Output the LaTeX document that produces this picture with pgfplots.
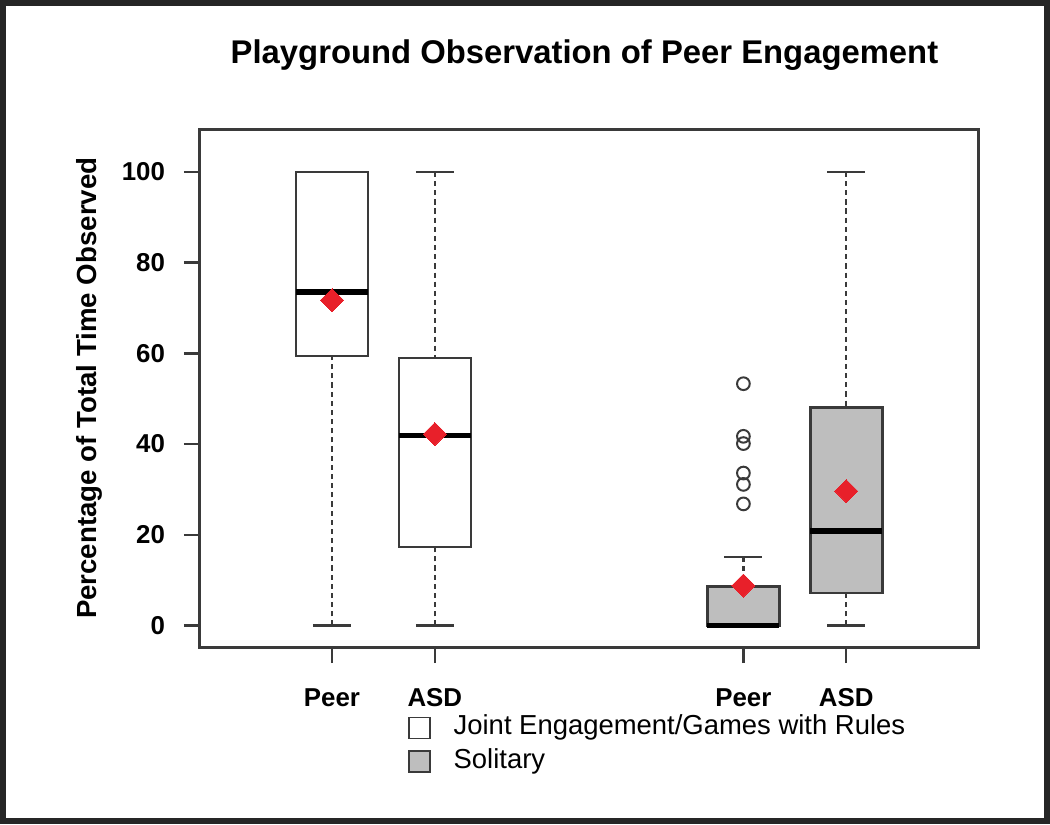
\documentclass[border=0pt]{standalone}
\usepackage{pgfplots}
\pgfplotsset{compat=1.18}
\usepgfplotslibrary{statistics}
\usepackage{fontspec}
\setmainfont{Liberation Sans}
\definecolor{boxgray}{HTML}{BEBEBE}
\definecolor{linegray}{HTML}{3A3A3A}
\definecolor{meanred}{HTML}{E8202A}
\pgfplotsset{
  boxplot/draw direction=y,
  boxplot/draw/lower whisker/.code={%
    \draw[linegray, line width=1.2pt, dash pattern=on 2.6pt off 2pt]
      (boxplot box cs:\pgfplotsboxplotvalue{lower whisker},0.5) -- (boxplot box cs:\pgfplotsboxplotvalue{lower quartile},0.5);
    \draw[linegray, line width=1.2pt]
      (boxplot whisker cs:\pgfplotsboxplotvalue{lower whisker},0) -- (boxplot whisker cs:\pgfplotsboxplotvalue{lower whisker},1);
  },
  boxplot/draw/upper whisker/.code={%
    \draw[linegray, line width=1.2pt, dash pattern=on 2.6pt off 2pt]
      (boxplot box cs:\pgfplotsboxplotvalue{upper whisker},0.5) -- (boxplot box cs:\pgfplotsboxplotvalue{upper quartile},0.5);
    \draw[linegray, line width=1.2pt]
      (boxplot whisker cs:\pgfplotsboxplotvalue{upper whisker},0) -- (boxplot whisker cs:\pgfplotsboxplotvalue{upper whisker},1);
  },
  boxplot/every median/.style={line width=2.8pt, black},
  boxplot/box extend=0.7,
  boxplot/whisker extend=0.37,
}
\begin{document}
\begin{tikzpicture}
\begin{axis}[
  name=ax,
  scale only axis,
  width=391.5pt, height=260.5pt,
  xmin=-0.285, xmax=7.285,
  ymin=-4.82, ymax=109.4,
  xtick={1,2,5,6},
  xticklabels={Peer,ASD,Peer,ASD},
  ytick={0,20,40,60,80,100},
  tick align=outside,
  x tick style={linegray, line width=1.2pt},
  y tick style={linegray, line width=1.2pt},
  xtick pos=bottom, ytick pos=left,
  major tick length=8pt,
  axis line style={linegray, line width=1.4pt},
  /pgf/number format/assume math mode=true,
  tick label style={font=\fontsize{13}{15}\selectfont\bfseries},
  xticklabel style={anchor=base, yshift=-22pt},
  yticklabel style={anchor=east, xshift=-6pt},
  title={Playground Observation of Peer Engagement},
  title style={font=\fontsize{16.5}{19}\selectfont\bfseries, at={(axis description cs:0.494,1)}, anchor=base, yshift=27pt},
  ylabel={Percentage of Total Time Observed},
  ylabel style={font=\fontsize{13.9}{16}\selectfont\bfseries, at={(axis description cs:-0.142,0.5)}, anchor=center},
  legend style={draw=none, fill=none, inner sep=0pt, at={(axis description cs:0.267,-0.130)}, anchor=north west,
    column sep=11.5pt, row sep=4pt,
    nodes={inner sep=0pt, text height=10pt, text depth=3pt, font=\fontsize{13.8}{16}\selectfont}},
  legend cell align=left,
  legend image code/.code={\draw[#1] (0pt,-5.25pt) rectangle (10.5pt,5.25pt);},
]
\addlegendimage{draw=linegray, line width=0.9pt, fill=white}
\addlegendentry{Joint Engagement/Games with Rules}
\addlegendimage{draw=linegray, line width=0.9pt, fill=boxgray}
\addlegendentry{Solitary}

% Joint engagement, Peer
\addplot[forget plot, boxplot prepared={draw position=1, lower whisker=0, lower quartile=59.4, median=73.5, upper quartile=100, upper whisker=100},
  boxplot/every box/.style={draw=linegray, line width=1.3pt, fill=white}] coordinates {};
% Joint engagement, ASD
\addplot[forget plot, boxplot prepared={draw position=2, lower whisker=0, lower quartile=17.3, median=41.9, upper quartile=59.0, upper whisker=100},
  boxplot/every box/.style={draw=linegray, line width=1.3pt, fill=white}] coordinates {};
% Solitary, Peer
\addplot[forget plot, boxplot prepared={draw position=5, lower whisker=0, lower quartile=0, median=0, upper quartile=8.6, upper whisker=15.1},
  boxplot/every box/.style={draw=linegray, line width=1.3pt, fill=boxgray},
  mark=o, mark size=3.2pt, mark options={linegray, line width=1pt}]
  coordinates {(0,53.3) (0,41.7) (0,40.1) (0,33.6) (0,31.1) (0,26.8)};
% Solitary, ASD
\addplot[forget plot, boxplot prepared={draw position=6, lower whisker=0, lower quartile=7.2, median=20.8, upper quartile=48.0, upper whisker=100},
  boxplot/every box/.style={draw=linegray, line width=1.3pt, fill=boxgray}] coordinates {};
% means
\addplot[forget plot, only marks, mark=square*, mark size=4.1pt, mark options={rotate=45, fill=meanred, draw=meanred, line width=0pt}, color=meanred]
  coordinates {(1,71.7) (2,42.2) (5,8.8) (6,29.6)};
\end{axis}
\draw[black!85, line width=3pt] ([shift={(-99pt,-87.5pt)}]ax.south west) rectangle ([shift={(34.5pt,63.5pt)}]ax.north east);
\end{tikzpicture}
\end{document}
